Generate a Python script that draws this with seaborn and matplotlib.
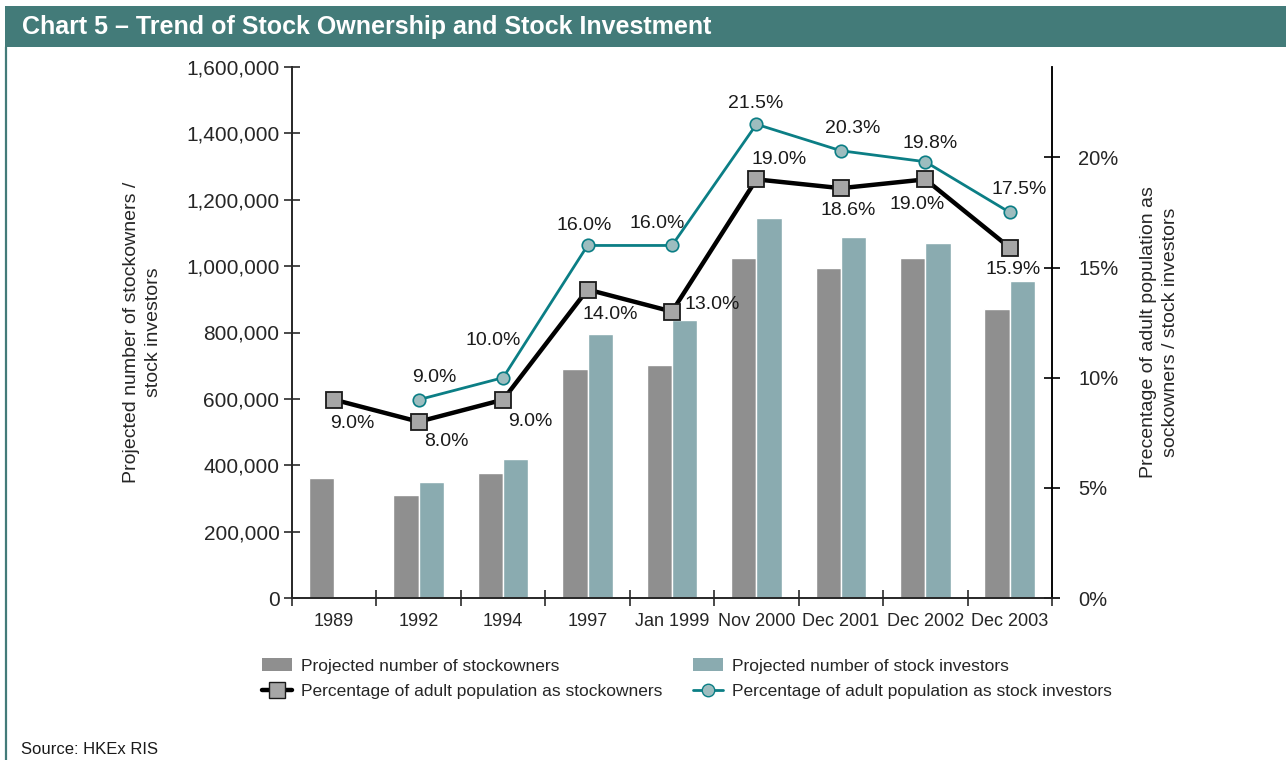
#!/usr/bin/env python3
"""
Chart 5 - Trend of stock ownership and stock investment.
Bars: projected number of stockowners / stock investors (left axis).
Lines: percentage of adult population (right axis).
"""

import numpy as np
import pandas as pd
import matplotlib
matplotlib.use("Agg")
import matplotlib.pyplot as plt
import seaborn as sns
from matplotlib.patches import Patch, Rectangle
from matplotlib.lines import Line2D
from matplotlib.ticker import FuncFormatter, FixedLocator

# === Data ===
categories = ["1989", "1992", "1994", "1997", "Jan 1999", "Nov 2000",
              "Dec 2001", "Dec 2002", "Dec 2003"]
stockowners = [362000, 311000, 377000, 690000, 702000, 1024000, 994000, 1024000, 871000]
stock_investors = [np.nan, 350000, 420000, 795000, 838000, 1144000, 1087000, 1069000, 955000]
pct_stockowners = [9.0, 8.0, 9.0, 14.0, 13.0, 19.0, 18.6, 19.0, 15.9]
pct_investors = [np.nan, 9.0, 10.0, 16.0, 16.0, 21.5, 20.3, 19.8, 17.5]

left_ticks = [0, 200000, 400000, 600000, 800000, 1000000, 1200000, 1400000, 1600000]
right_ticks = [0, 5, 10, 15, 20]

# label offsets in pixels (dx, dy) relative to each marker, screen y up
owner_offsets = [(18, -24), (28, -20), (27, -22), (23, -25), (40, 7),
                 (23, 20), (7, -22), (-8, -25), (3, -22)]
investor_offsets = [None, (16, 22), (-10, 37), (-3, 20), (-15, 22),
                    (-1, 21), (12, 22), (5, 18), (9, 23)]

# === Style ===
OWNER_BAR = "#8f8f8f"
INVESTOR_BAR = "#8aabb0"
TEAL = "#0b7e85"
TEAL_FACE = "#9dbdbf"
SQUARE_FACE = "#a6a6a6"
HEADER = "#437b79"
AXIS_COL = "#2b2b2b"

sns.set_theme(style="white")
plt.rcParams["font.family"] = ["Liberation Sans", "DejaVu Sans"]
plt.rcParams["axes.linewidth"] = 1.2

W, H = 1286, 760
fig = plt.figure(figsize=(W / 100, H / 100), dpi=100)
fig.patch.set_facecolor("white")

ax = fig.add_axes([292 / W, 1 - 598 / H, (1052 - 292) / W, (598 - 67) / H])

bars_df = pd.DataFrame({
    "period": categories * 2,
    "value": stockowners + stock_investors,
    "series": ["Projected number of stockowners"] * len(categories)
              + ["Projected number of stock investors"] * len(categories),
})
sns.barplot(data=bars_df, x="period", y="value", hue="series", order=categories,
            palette=[OWNER_BAR, INVESTOR_BAR], width=0.6, errorbar=None,
            saturation=1, legend=False, ax=ax)

ax.set_ylim(0, 1600000)
ax.set_xlim(-0.5, len(categories) - 0.5)
ax.yaxis.set_major_locator(FixedLocator(left_ticks))
ax.yaxis.set_major_formatter(FuncFormatter(lambda v, p: f"{int(v):,}"))
ax.set_xlabel("")
ax.set_ylabel("Projected number of stockowners /\nstock investors", fontsize=14,
              linespacing=1.4)
ax.yaxis.set_label_coords((162 - 292) / (1052 - 292), 0.5)

ax.tick_params(axis="y", direction="inout", length=12, width=1.2, color=AXIS_COL,
               labelsize=15, pad=3, left=True)
ax.tick_params(axis="x", which="major", length=0, labelsize=13, pad=11)
ax.set_xticks(np.arange(-0.5, len(categories), 1.0), minor=True)
ax.tick_params(axis="x", which="minor", direction="inout", length=12, width=1.2,
               color=AXIS_COL, bottom=True)
for s in ["left", "bottom", "right"]:
    ax.spines[s].set_color(AXIS_COL)
ax.spines["top"].set_visible(False)
ax.grid(False)

# === Percentage lines (right axis) ===
ax2 = ax.twinx()
x_pos = np.arange(len(categories))
sns.lineplot(x=x_pos, y=pct_investors, ax=ax2, color=TEAL, linewidth=2.0,
             marker="o", markersize=9, markerfacecolor=TEAL_FACE,
             markeredgecolor=TEAL, markeredgewidth=1.2, legend=False, zorder=3)
sns.lineplot(x=x_pos, y=pct_stockowners, ax=ax2, color="black", linewidth=3.2,
             marker="s", markersize=11.5, markerfacecolor=SQUARE_FACE,
             markeredgecolor="#1a1a1a", markeredgewidth=1.3, legend=False, zorder=4)

ax2.set_ylim(0, 24.1)
ax2.set_xlim(-0.5, len(categories) - 0.5)
ax2.yaxis.set_major_locator(FixedLocator(right_ticks))
ax2.yaxis.set_major_formatter(FuncFormatter(lambda v, p: f"{int(v)}%"))
ax2.tick_params(axis="y", direction="inout", length=12, width=1.2, color="black",
                labelsize=14.5, pad=13, right=True)
ax2.set_ylabel("Precentage of adult population as\nsockowners / stock investors",
               fontsize=14, linespacing=1.4)
ax2.yaxis.set_label_coords((1140 - 292) / (1052 - 292), 0.5)
ax2.spines["right"].set_color("black")
ax2.spines["top"].set_visible(False)
ax2.grid(False)

for i, v in enumerate(pct_stockowners):
    dx, dy = owner_offsets[i]
    ax2.annotate(f"{v:.1f}%", (x_pos[i], v), xytext=(dx, dy), textcoords="offset pixels",
                 ha="center", va="center", fontsize=14, color="#1a1a1a", zorder=6)
for i, v in enumerate(pct_investors):
    if investor_offsets[i] is None or np.isnan(v):
        continue
    dx, dy = investor_offsets[i]
    ax2.annotate(f"{v:.1f}%", (x_pos[i], v), xytext=(dx, dy), textcoords="offset pixels",
                 ha="center", va="center", fontsize=14, color="#1a1a1a", zorder=6)

# === Legend (two columns) ===
col1 = [Patch(facecolor=OWNER_BAR, edgecolor="none"),
        Line2D([], [], color="black", lw=3.2, marker="s", markersize=11.5,
               markerfacecolor=SQUARE_FACE, markeredgecolor="#1a1a1a")]
col2 = [Patch(facecolor=INVESTOR_BAR, edgecolor="none"),
        Line2D([], [], color=TEAL, lw=2.0, marker="o", markersize=9,
               markerfacecolor=TEAL_FACE, markeredgecolor=TEAL)]
leg_kw = dict(loc="upper left", frameon=False, fontsize=12.5, handlelength=1.7,
              handleheight=0.8, handletextpad=0.55, labelspacing=0.57, borderpad=0,
              borderaxespad=0)
fig.legend(col1, ["Projected number of stockowners",
                  "Percentage of adult population as stockowners"],
           bbox_to_anchor=(262 / W, 1 - 658 / H), **leg_kw)
fig.legend(col2, ["Projected number of stock investors",
                  "Percentage of adult population as stock investors"],
           bbox_to_anchor=(693 / W, 1 - 658 / H), **leg_kw)

# === Header bar, frame line and source ===
fig.patches.append(Rectangle((5 / W, 1 - 47 / H), 1 - 5 / W, 41 / H,
                             transform=fig.transFigure, facecolor=HEADER,
                             edgecolor="none", zorder=0))
fig.lines.append(Line2D([6 / W, 6 / W], [0, 1 - 47 / H], transform=fig.transFigure,
                        color=HEADER, lw=1.6))
fig.text(22 / W, 1 - 27 / H, "Chart 5 \u2013 Trend of Stock Ownership and Stock Investment",
         color="white", fontsize=18, fontweight="bold", va="center", ha="left")
fig.text(21 / W, 1 - 749 / H, "Source: HKEx RIS", fontsize=12, va="center", ha="left",
         color="#1a1a1a")

fig.savefig("out.png", dpi=100)
